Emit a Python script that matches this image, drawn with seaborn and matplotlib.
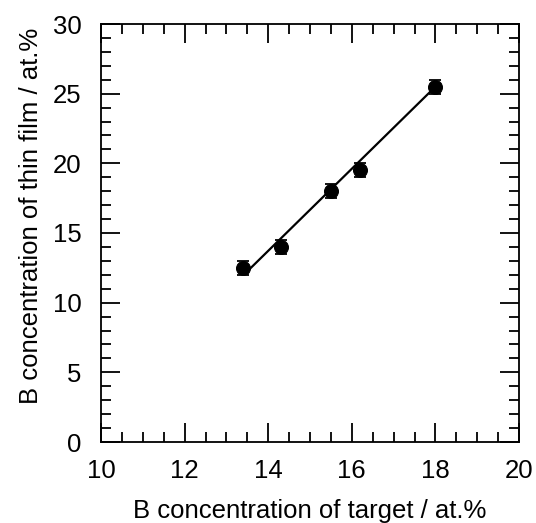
import numpy as np
import pandas as pd
import matplotlib
matplotlib.use("Agg")
import matplotlib.pyplot as plt
import seaborn as sns
from matplotlib.ticker import MultipleLocator

target_conc = [13.4, 14.3, 15.5, 16.2, 18.0]
film_conc = [12.5, 14.0, 18.0, 19.5, 25.5]
film_err = [0.5, 0.5, 0.5, 0.5, 0.5]
fit_x = [13.45, 18.0]
fit_y = [12.1, 25.5]

sns.set_theme(style="ticks")
plt.rcParams['font.family'] = ['Liberation Sans', 'DejaVu Sans']
plt.rcParams['text.color'] = 'black'
plt.rcParams['axes.labelcolor'] = 'black'
plt.rcParams['xtick.color'] = 'black'
plt.rcParams['ytick.color'] = 'black'

df = pd.DataFrame({"x": target_conc, "y": film_conc, "err": film_err})
fit = pd.DataFrame({"x": fit_x, "y": fit_y})

fig = plt.figure(figsize=(5.36, 5.23), dpi=100)
ax = fig.add_axes([101/536, 1-442/523, 418/536, 418/523])

sns.lineplot(data=fit, x="x", y="y", ax=ax, color="black", linewidth=1.6)
ax.errorbar(df["x"], df["y"], yerr=df["err"], fmt="none", ecolor="black",
            elinewidth=1.3, capsize=4.5, capthick=1.3, zorder=3)
sns.scatterplot(data=df, x="x", y="y", ax=ax, color="black", s=100,
                edgecolor="black", zorder=4)

ax.set_xlim(10, 20)
ax.set_ylim(0, 30)
ax.xaxis.set_major_locator(MultipleLocator(2))
ax.xaxis.set_minor_locator(MultipleLocator(0.5))
ax.yaxis.set_major_locator(MultipleLocator(5))
ax.yaxis.set_minor_locator(MultipleLocator(1))
ax.tick_params(which="both", direction="in", top=True, right=True,
               color="black", width=1.3, labelcolor="black")
ax.tick_params(which="major", length=14, labelsize=18.5, pad=12)
ax.tick_params(which="minor", length=7)
ax.tick_params(axis="y", which="major", pad=14)
for s in ax.spines.values():
    s.set_linewidth(1.3)
    s.set_color("black")
    s.set_visible(True)

ax.set_xlabel("B concentration of target / at.%", fontsize=18.5, labelpad=12)
ax.set_ylabel("B concentration of thin film / at.%", fontsize=18.5, labelpad=7)
ax.yaxis.label.set_y(0.54)

fig.savefig("out.png", dpi=100)
